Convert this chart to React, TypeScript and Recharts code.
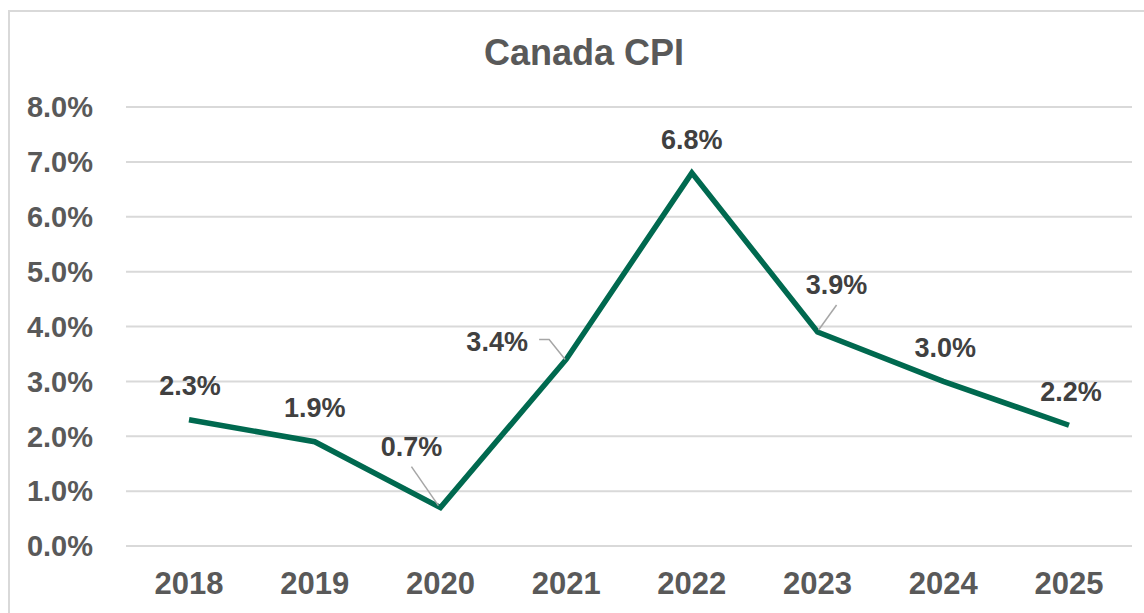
import { LineChart, Line, XAxis, YAxis, CartesianGrid, LabelList } from "recharts";

const years = ["2018", "2019", "2020", "2021", "2022", "2023", "2024", "2025"];
const cpi = [2.3, 1.9, 0.7, 3.4, 6.8, 3.9, 3.0, 2.2];
const yTicks = [0, 1, 2, 3, 4, 5, 6, 7, 8];

const data = years.map((year, i) => ({ year, cpi: cpi[i] }));

const FONT = "'Liberation Sans', Arial, sans-serif";

// label placement relative to each point: [dx, baseline dy, leader line points or null]
const labelPlacement: [number, number, number[][] | null][] = [
  [1, -25, null],
  [0, -25, null],
  [-29, -52, [[-29, -41], [-2, -2]]],
  [-69, -8, [[-27, -20], [-17, -20], [-1, 0]]],
  [0, -24, null],
  [19, -38, [[19, -27], [1, -2]]],
  [2, -24, null],
  [2, -24, null],
];

const renderLabel = (props: any) => {
  const { x, y, value, index } = props;
  const [dx, dy, leader] = labelPlacement[index];
  return (
    <g>
      {leader && (
        <polyline
          points={leader.map(([px, py]) => `${x + px},${y + py}`).join(" ")}
          fill="none"
          stroke="#a6a6a6"
          strokeWidth={1.5}
        />
      )}
      <text
        x={x + dx}
        y={y + dy}
        textAnchor="middle"
        fill="#404040"
        fontSize={27}
        fontWeight="bold"
        fontFamily={FONT}
      >
        {`${Number(value).toFixed(1)}%`}
      </text>
    </g>
  );
};

export default function App() {
  return (
    <div
      style={{
        position: "absolute",
        left: 8,
        top: 10,
        width: 1160,
        height: 620,
        border: "2px solid #d9d9d9",
        background: "#fff",
        fontFamily: FONT,
      }}
    >
      <div
        style={{
          position: "absolute",
          left: 0,
          width: 1148,
          top: 21,
          textAlign: "center",
          fontSize: 36,
          fontWeight: "bold",
          color: "#595959",
          lineHeight: "40px",
        }}
      >
        Canada CPI
      </div>
      <LineChart
        width={1136}
        height={620}
        data={data}
        margin={{ top: 95, right: 14, left: 0, bottom: 36 }}
      >
        <CartesianGrid vertical={false} stroke="#d9d9d9" strokeWidth={2} />
        <XAxis
          dataKey="year"
          height={50}
          axisLine={false}
          tickLine={false}
          tickSize={0}
          tickMargin={26}
          padding={{ left: 63, right: 63 }}
          tick={{ fill: "#595959", fontSize: 31, fontWeight: "bold", fontFamily: FONT }}
        />
        <YAxis
          width={116}
          domain={[0, 8]}
          ticks={yTicks}
          axisLine={false}
          tickLine={false}
          tickSize={0}
          tickMargin={33}
          tickFormatter={(v: number) => `${v.toFixed(1)}%`}
          tick={{ fill: "#595959", fontSize: 29, fontWeight: "bold", fontFamily: FONT }}
        />
        <Line
          type="linear"
          dataKey="cpi"
          stroke="#00694f"
          strokeWidth={5.5}
          dot={false}
          isAnimationActive={false}
        >
          <LabelList dataKey="cpi" content={renderLabel} />
        </Line>
      </LineChart>
    </div>
  );
}
